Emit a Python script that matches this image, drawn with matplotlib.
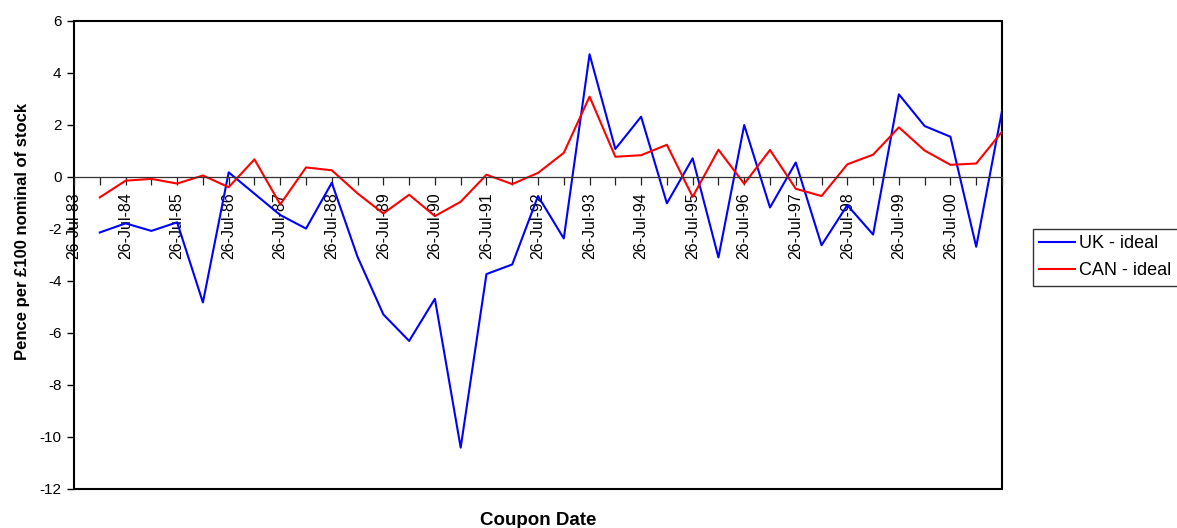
"""
Semi-annual coupon date deviations, UK vs CAN ideal.
"""

import matplotlib
matplotlib.use("Agg")
import matplotlib.pyplot as plt
import pandas as pd

plt.rcParams["font.family"] = ["Liberation Sans", "DejaVu Sans"]
plt.rcParams["axes.unicode_minus"] = False

# coupon dates every 6 months, first one has no value
coupon_dates = pd.date_range("1983-07-26", periods=37, freq=pd.DateOffset(months=6))
date_labels = [d.strftime("%d-%b-%y") for d in coupon_dates]

uk_ideal = [None, -2.14, -1.79, -2.08, -1.75, -4.83, 0.17, -0.65, -1.47, -1.99,
            -0.23, -3.08, -5.29, -6.31, -4.69, -10.41, -3.74, -3.37, -0.74, -2.37,
            4.71, 1.07, 2.31, -1.02, 0.71, -3.10, 1.99, -1.18, 0.55, -2.63,
            -1.09, -2.22, 3.17, 1.95, 1.54, -2.69, 2.53]
can_ideal = [None, -0.79, -0.15, -0.08, -0.26, 0.05, -0.40, 0.67, -1.06, 0.36,
             0.25, -0.64, -1.41, -0.69, -1.51, -0.96, 0.08, -0.28, 0.15, 0.92,
             3.08, 0.77, 0.83, 1.23, -0.77, 1.04, -0.27, 1.03, -0.46, -0.74,
             0.48, 0.85, 1.90, 1.01, 0.46, 0.51, 1.73]

df = pd.DataFrame({"UK - ideal": uk_ideal, "CAN - ideal": can_ideal}, dtype=float)
pos = list(range(len(coupon_dates)))

fig = plt.figure(figsize=(11.77, 5.28), dpi=100)
ax = fig.add_axes([0.0629, 0.0739, 0.7884, 0.8869])

ax.plot(pos, df["UK - ideal"], color="#0000ff", linewidth=1.5, label="UK - ideal")
ax.plot(pos, df["CAN - ideal"], color="#ff0000", linewidth=1.5, label="CAN - ideal")

ax.set_xlim(0, len(pos) - 1)
ax.set_ylim(-12, 6)
ax.set_yticks(range(-12, 7, 2))

# category axis crosses at zero, ticks every coupon, labels every year
ax.spines["bottom"].set_position(("data", 0))
ax.spines["bottom"].set_linewidth(0.9)
ax.spines["bottom"].set_color("#333333")
for side in ["left", "top", "right"]:
    ax.spines[side].set_visible(False)
ax.add_patch(plt.Rectangle((0, 0), 1, 1, transform=ax.transAxes, fill=False,
                           edgecolor="black", linewidth=1.5, clip_on=False))

ax.set_xticks(pos)
ax.set_xticklabels([lab if i % 2 == 0 and i < 36 else "" for i, lab in enumerate(date_labels)],
                   rotation=90, fontsize=11.5)
ax.tick_params(axis="x", direction="out", length=6, width=0.9, pad=5, colors="#222222",
               labelcolor="black")
ax.tick_params(axis="y", direction="out", length=5, width=1, labelsize=11, pad=4)

ax.set_ylabel("Pence per £100 nominal of stock", fontsize=12, fontweight="bold")
ax.yaxis.set_label_coords(-0.047, 0.549)
fig.text(0.457, 0.006, "Coupon Date", fontsize=13.5, fontweight="bold", ha="center",
         va="baseline")

leg = ax.legend(loc="upper left", bbox_to_anchor=(1033 / 1177, 1 - 229 / 528),
                bbox_transform=fig.transFigure, fontsize=13, frameon=True,
                fancybox=False, borderaxespad=0, handlelength=2.0,
                handletextpad=0.2, borderpad=0.35, labelspacing=0.55)
leg.get_frame().set_edgecolor("black")
leg.get_frame().set_linewidth(1)

plt.savefig("out.png", dpi=100)
